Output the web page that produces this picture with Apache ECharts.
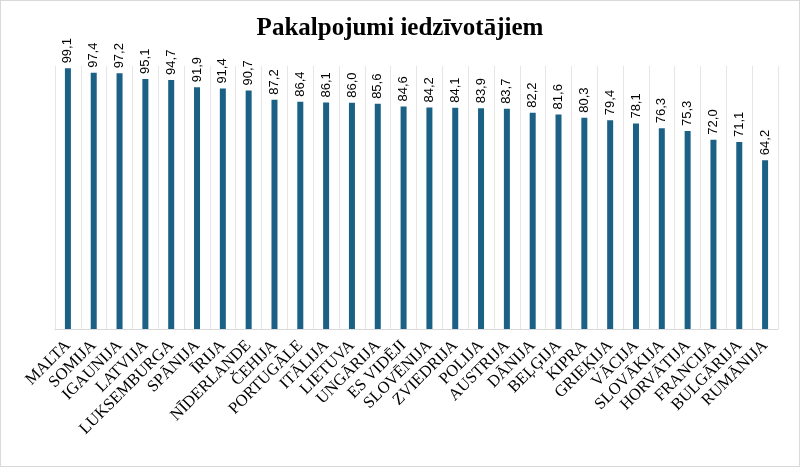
<!DOCTYPE html>
<html><head><meta charset="utf-8">
<script src="https://cdn.jsdelivr.net/npm/echarts@6/dist/echarts.min.js"></script>
<style>html,body{margin:0;padding:0;background:#fff}#c{width:800px;height:467px;box-sizing:border-box;border:1px solid #d9d9d9}</style>
</head><body><div id="c"></div>
<script>
const categories=["MALTA","SOMIJA","IGAUNIJA","LATVIJA","LUKSEMBURGA","SPĀNIJA","ĪRIJA","NĪDERLANDE","ČEHIJA","PORTUGĀLE","ITĀLIJA","LIETUVA","UNGĀRIJA","ES VIDĒJI","SLOVĒNIJA","ZVIEDRIJA","POLIJA","AUSTRIJA","DĀNIJA","BEĻĢIJA","KIPRA","GRIEĶIJA","VĀCIJA","SLOVĀKIJA","HORVĀTIJA","FRANCIJA","BULGĀRIJA","RUMĀNIJA"];
const values=[99.1,97.4,97.2,95.1,94.7,91.9,91.4,90.7,87.2,86.4,86.1,86.0,85.6,84.6,84.2,84.1,83.9,83.7,82.2,81.6,80.3,79.4,78.1,76.3,75.3,72.0,71.1,64.2];
const chart=echarts.init(document.getElementById('c'));
chart.setOption({
  animation:false,
  title:{text:'Pakalpojumi iedzīvotājiem',left:'center',top:10,textStyle:{fontFamily:'Liberation Serif',fontWeight:'bold',fontSize:25,color:'#000'}},
  grid:{left:54,right:21,top:65,bottom:137},
  xAxis:{type:'category',data:categories,
    axisLine:{lineStyle:{color:'#d9d9d9'}},axisTick:{show:false},
    splitLine:{show:true,lineStyle:{color:'#e6e6e6'}},
    axisLabel:{rotate:45,interval:0,fontFamily:'Liberation Serif',fontSize:16.5,color:'#000',margin:14}},
  yAxis:{type:'value',min:0,max:100,show:false},
  series:[{type:'bar',data:values,barWidth:6,itemStyle:{color:'#1b6185'},
    label:{show:true,position:'top',rotate:90,align:'left',verticalAlign:'middle',distance:5,fontFamily:'Liberation Sans',fontSize:13,color:'#000',
      formatter:p=>p.value.toFixed(1).replace('.',',')}}]
});
</script></body></html>
